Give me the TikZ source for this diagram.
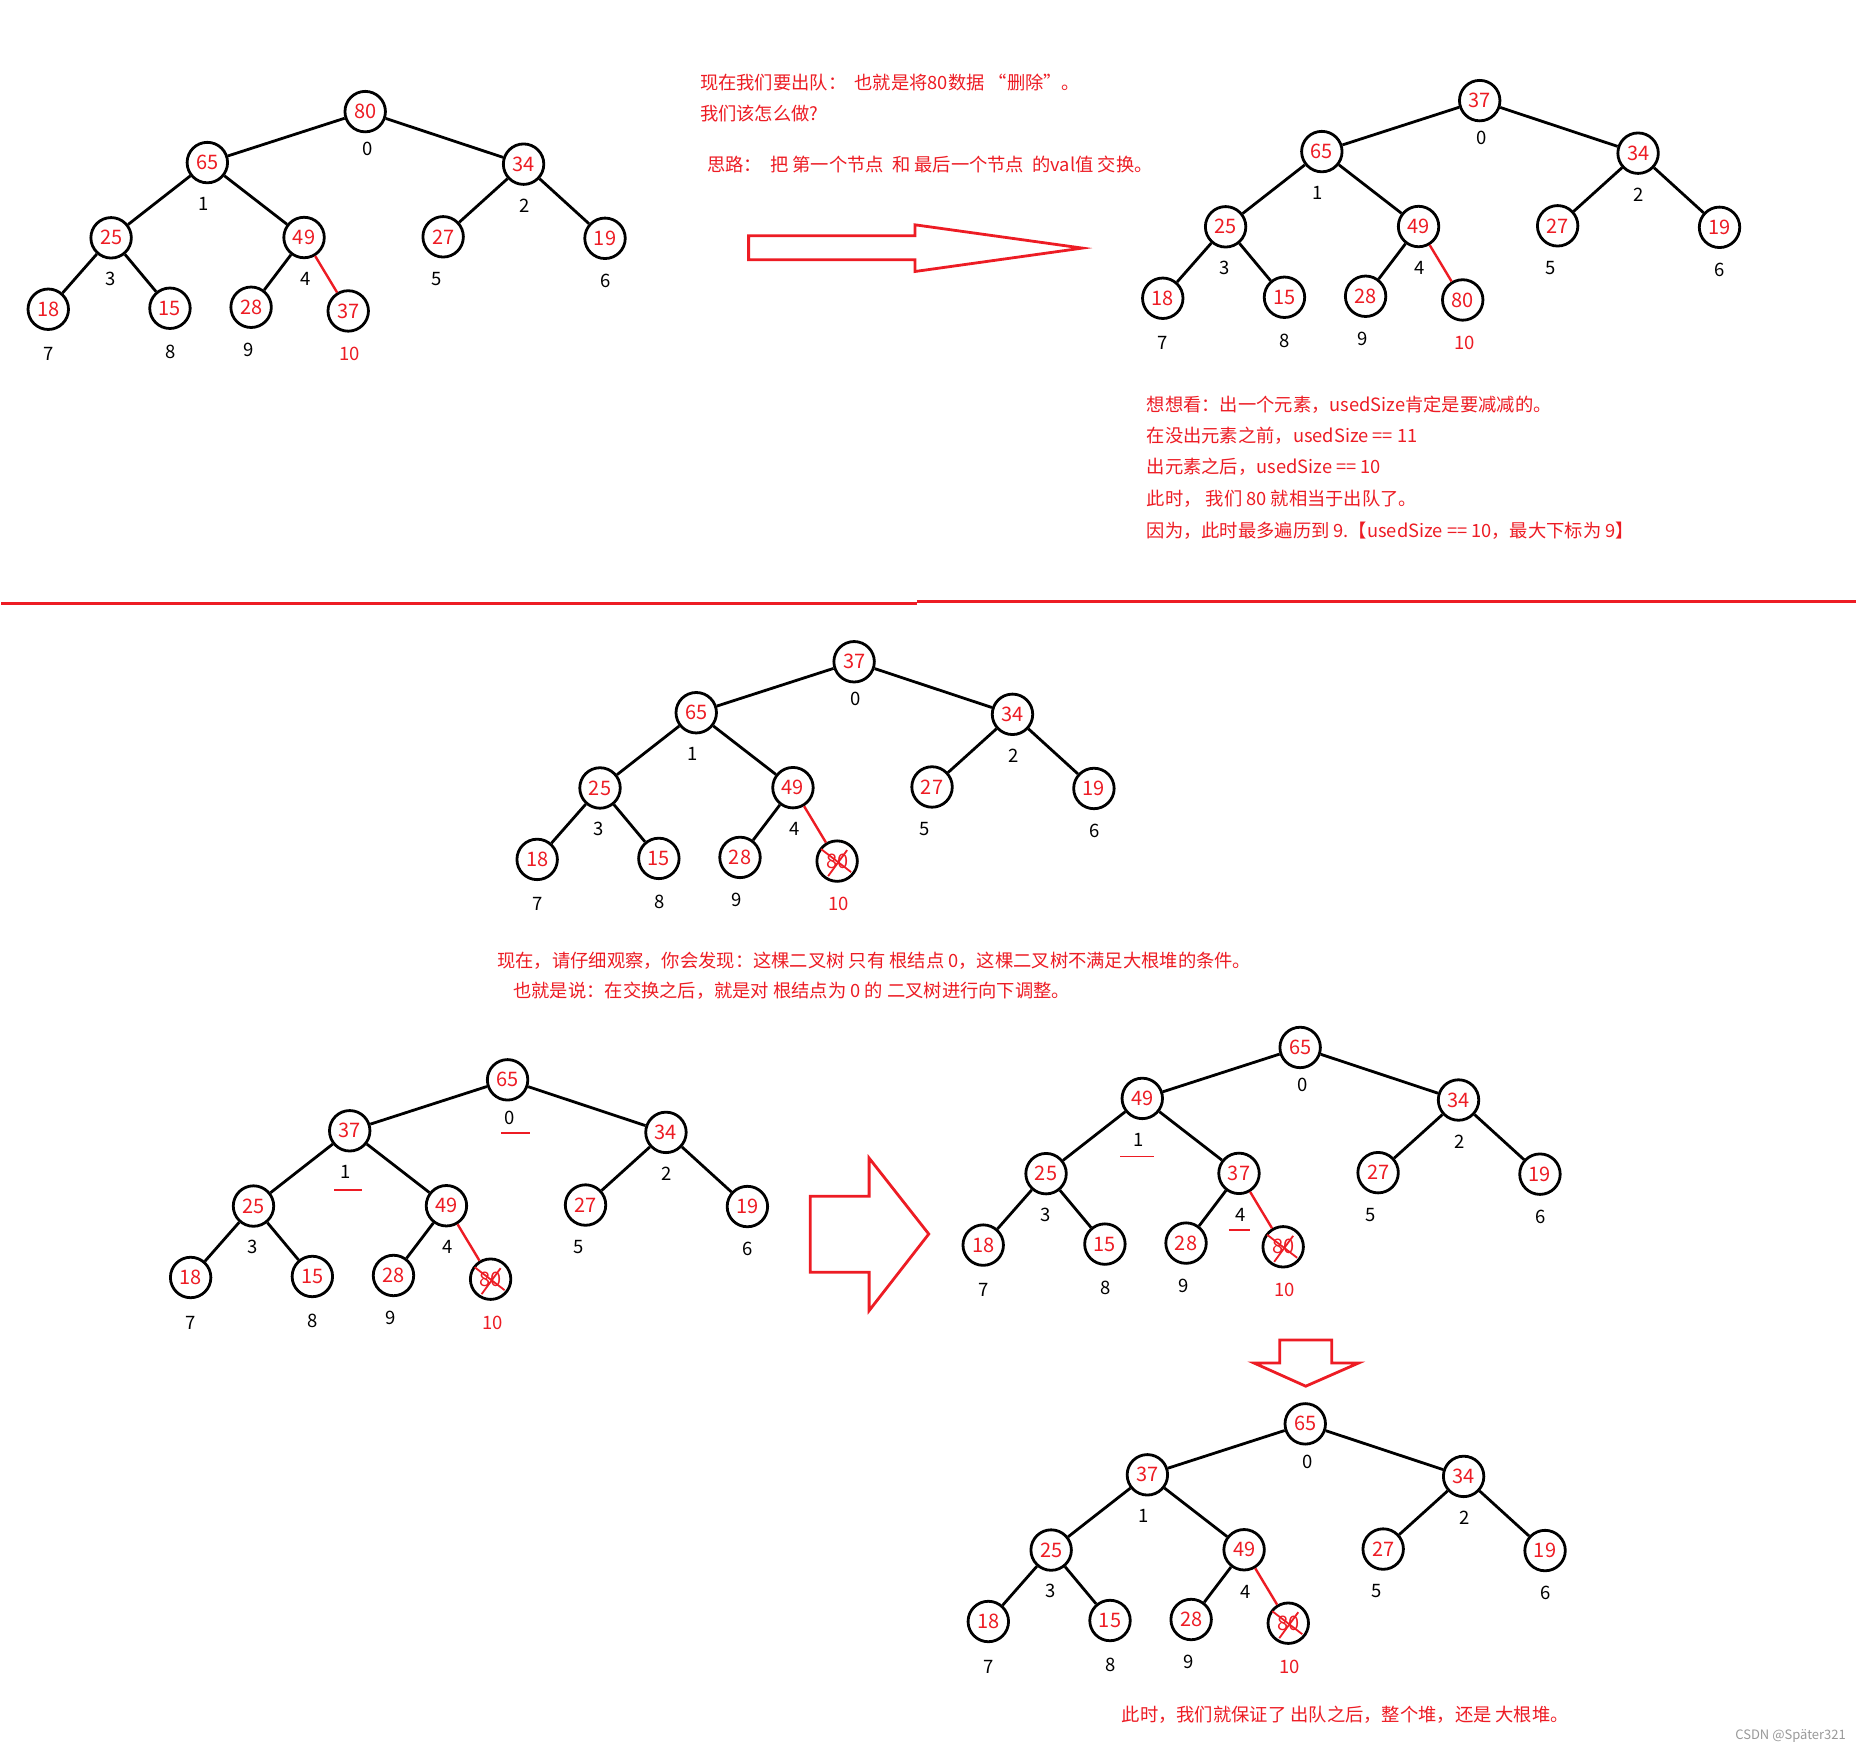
\documentclass[tikz,border=0pt]{standalone}
\usepackage{fontspec}
\setmainfont{Noto Sans CJK SC}
\usepackage{tikz}
\definecolor{hred}{RGB}{237,28,36}

% one heap drawn as a tree: #1 name, #2 root position, #3 values by index
\newcommand{\heaptree}[3]{%
  \begin{scope}[shift={#2}]
    \foreach \i/\x/\y/\lx/\ly in {0/0/0/2/37.6, 1/-158/51/-162/92.3,
        2/158.5/52.6/159.3/94, 3/-254.3/126.3/-255.2/167.6,
        4/-61.2/126/-60/167.7, 5/78/125.3/71/167.6,
        6/240/126.8/240.4/169.2, 7/-317.2/197.8/-317.2/242.8,
        8/-195.4/196.8/-194.9/240.8, 9/-114.2/195.8/-117.1/238.5,
        10/-17/199.5/-15.3/242.8} {
      \pgfmathtruncatemacro\val{{#3}[\i]}
      \ifnum\i=10 \def\idxcol{hred}\else\def\idxcol{black}\fi
      \node[hnode] (#1-\i) at (\x,\y) {\val};
      \node[idx, text=\idxcol] (#1-l\i) at (\lx,\ly) {\i};
    }
    \foreach \c/\p in {1/0,2/0,3/1,4/1,5/2,6/2,7/3,8/3,9/4}
      \draw[edge] (#1-\p) -- (#1-\c);
    \draw[redge] (#1-4) -- (#1-10);
  \end{scope}}

% red cross over a removed node
\newcommand{\crossout}[1]{%
  \draw[xline] ([shift={(-16,-12)}]#1.center) -- ([shift={(14,11)}]#1.center);
  \draw[xline] ([shift={(-9,15)}]#1.center) -- ([shift={(10,-11)}]#1.center);}

\begin{document}
\begin{tikzpicture}[
  x=1pt, y=-1pt,
  hnode/.style={circle, draw, line width=2.8pt, minimum size=40.5pt,
                inner sep=0pt, text=hred, font=\fontsize{20}{20}\selectfont},
  idx/.style={inner sep=0pt, font=\fontsize{18.5}{18.5}\selectfont},
  edge/.style={line width=2.8pt},
  redge/.style={draw=hred, line width=2.4pt},
  xline/.style={draw=hred, line width=1.8pt},
  uline/.style={draw=hred, line width=1.4pt},
  sep/.style={draw=hred, line width=3pt},
  bigarrow/.style={draw=hred, line width=2.8pt, line join=miter},
  note/.style={anchor=base west, inner sep=0pt, text=hred,
               font=\fontsize{18.3}{18.3}\selectfont}
]
  \fill[white] (0,0) rectangle (1859,1753);

  % before and after the swap
  \heaptree{t1}{(364,111.7)}{80,65,34,25,49,27,19,18,15,28,37}
  \heaptree{t2}{(1479.4,100.7)}{37,65,34,25,49,27,19,18,15,28,80}

  \node[note] (q1) at (699,89.2) {现在我们要出队：\ \ 也就是将80数据 “删除”。};
  \node[note] (q2) at (699,120.5) {我们该怎么做?};
  \node[note] (q3) at (706,171.5) {思路：\ \ 把 第一个节点\ \ 和 最后一个节点\ \ 的val值 交换。};

  \draw[bigarrow] (747.7,236) -- (914.3,236) -- (914.3,225) -- (1081.7,248.3)
    -- (914.3,271.7) -- (914.3,260) -- (747.7,260) -- cycle;

  \node[note] (r1) at (1146,411.5) {想想看：出一个元素，usedSize肯定是要减减的。};
  \node[note] (r2) at (1146,442.5) {在没出元素之前，usedSize\ == 11};
  \node[note] (r3) at (1146,474) {出元素之后，usedSize\ == 10};
  \node[note] (r4) at (1146,505.5) {此时，\ 我们 80 就相当于出队了。};
  \node[note] (r5) at (1146,537.5) {因为，此时最多遍历到 9.【usedSize\ == 10，最大下标为 9】};

  \draw[sep] (0,604) -- (916,604);
  \draw[sep] (916,602) -- (1856,602);

  % 80 removed
  \heaptree{t3}{(853.3,662.3)}{37,65,34,25,49,27,19,18,15,28,80}
  \crossout{t3-10}

  \node[note] (m1) at (496,968) {现在，请仔细观察，你会发现：这棵二叉树 只有 根结点 0，这棵二叉树不满足大根堆的条件。};
  \node[note] (m2) at (512,998) {也就是说：在交换之后，就是对 根结点为 0 的 二叉树进行向下调整。};

  % sift down from the root
  \heaptree{t4}{(506.5,1080.7)}{65,37,34,25,49,27,19,18,15,28,80}
  \crossout{t4-10}
  \draw[uline] (500,1134) -- (528.6,1134);
  \draw[uline] (333,1191) -- (361,1191);

  \draw[bigarrow] (809.3,1197.3) -- (868.3,1197.3) -- (868.3,1159) -- (928,1235)
    -- (868.3,1311.7) -- (868.3,1273.3) -- (809.3,1273.3) -- cycle;

  \heaptree{t5}{(1299.7,1048.3)}{65,49,34,25,37,27,19,18,15,28,80}
  \crossout{t5-10}
  \draw[uline] (1119.6,1157.7) -- (1153.3,1157.7);
  \draw[uline] (1228.3,1231) -- (1249.7,1231);

  \draw[bigarrow] (1279.3,1341) -- (1331.3,1341) -- (1331.3,1364) -- (1358.4,1364)
    -- (1305.3,1387.3) -- (1253.3,1364) -- (1279.3,1364) -- cycle;

  \heaptree{t6}{(1304.8,1425)}{65,37,34,25,49,27,19,18,15,28,80}
  \crossout{t6-10}

  \node[note] (b1) at (1121,1723) {此时，我们就保证了 出队之后，整个堆，还是 大根堆。};
  \node[anchor=east, inner sep=0pt, text=black!40, font=\fontsize{13}{13}\selectfont]
    (mark) at (1846,1737) {CSDN @Später321};
\end{tikzpicture}
\end{document}
